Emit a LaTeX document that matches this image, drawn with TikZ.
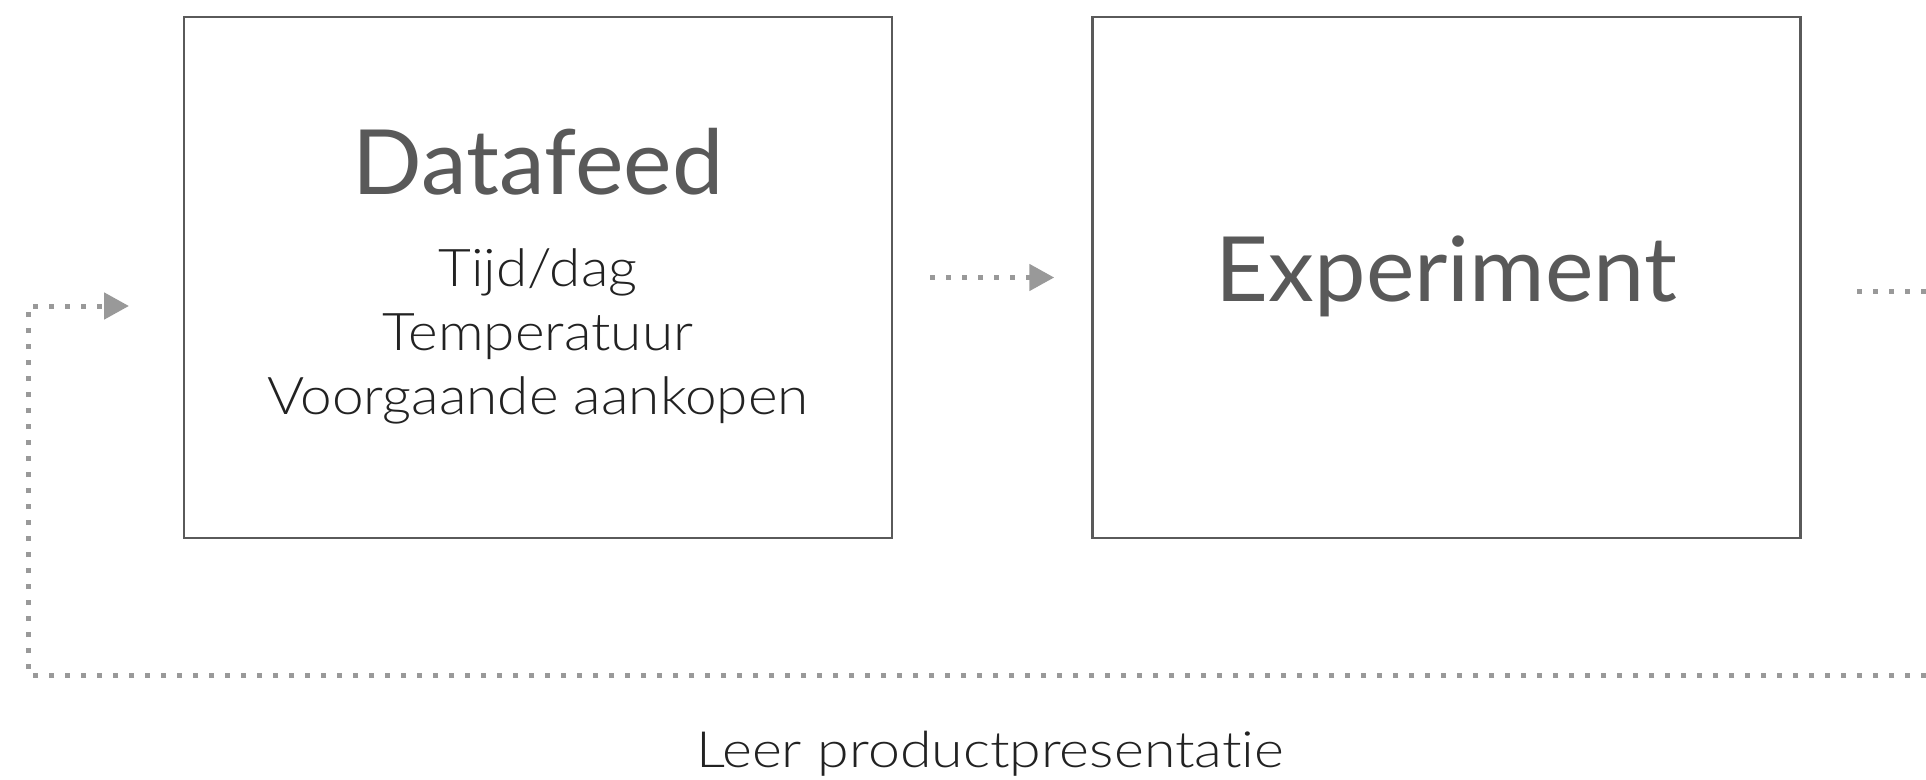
\documentclass[tikz,border=0pt]{standalone}
\usepackage{fontspec}
\setmainfont{Lato}[FakeStretch=1.02]
\newfontfamily\thinfont{Lato Light}[FakeStretch=1.09, Ligatures=NoCommon]
\newfontfamily\labelfont{Lato Light}[FakeStretch=1.145, Ligatures=NoCommon]
\usetikzlibrary{arrows.meta}
\definecolor{boxgray}{HTML}{5A5A5A}
\definecolor{dotgray}{HTML}{999999}
\definecolor{titlegray}{HTML}{595959}
\definecolor{thingray}{HTML}{222222}
\tikzset{
  x=1pt, y=-1pt,
  stagebox/.style={draw=boxgray, line width=2.5pt, minimum width=708pt, minimum height=521pt, inner sep=0pt},
  title/.style={anchor=base, text=titlegray, font=\fontsize{90}{100}\selectfont, inner sep=0pt},
  sub/.style={anchor=base, text=thingray, font=\thinfont\fontsize{52}{64}\selectfont, inner sep=0pt},
  caption/.style={anchor=base, text=thingray, font=\labelfont\fontsize{50}{60}\selectfont, inner sep=0pt},
  dotline/.style={draw=dotgray, line width=5pt, line cap=butt, dash pattern=on 5pt off 11pt},
  tip/.style={-{Triangle[length=25pt,width=26pt]}, dotgray},
}
\begin{document}
\begin{tikzpicture}
\useasboundingbox (0,0) rectangle (1926,779);
\node[stagebox] (box1) at (538,277.5) {};
\node[stagebox] (box2) at (1446.5,277.5) {};
\node[title] (t1) at (538,194) {Datafeed};
\node[sub] (s1) at (538,286) {Tijd/dag};
\node[sub] (s2) at (538,350) {Temperatuur};
\node[sub] (s3) at (538,414) {Voorgaande aankopen};
\node[title] (t2) at (1446.5,301) {Experiment};
\node[caption] (lbl) at (990,767) {Leer productpresentatie};
\coordinate (fbR) at (1926,675);
\coordinate (fbL) at (28,675);
\coordinate (fbT) at (28,306);
\coordinate (fbEnd) at (129,306);
\coordinate (outEnd) at (1926,291);
\coordinate (outStart) at (1857,291);
\draw[dotline, tip] ([xshift=37pt]box1.east) -- ([xshift=-37pt]box2.west);
\draw[dotline, tip] (fbR) -- (fbL) -- (fbT) -- (fbEnd);
\draw[dotline] (outStart) -- (outEnd);
\end{tikzpicture}
\end{document}
